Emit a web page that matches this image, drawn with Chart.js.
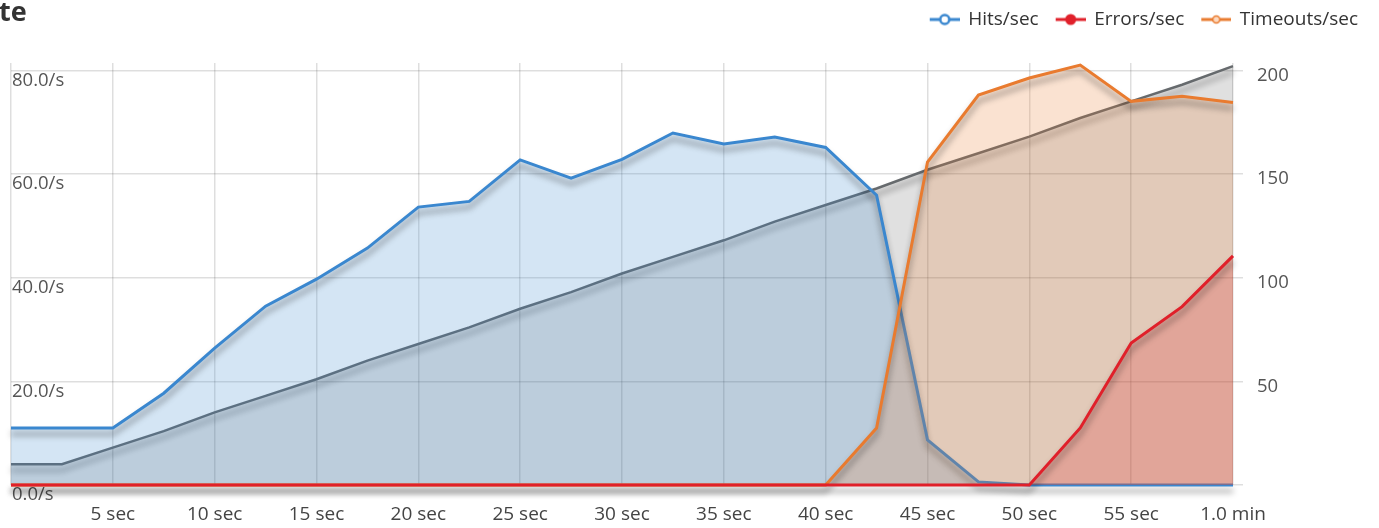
<!DOCTYPE html>
<html>
<head>
<meta charset="utf-8">
<script src="https://cdn.jsdelivr.net/npm/chart.js@4"></script>
<style>
  body { margin: 0; background: #fff; }
  #wrap { position: relative; width: 1379px; height: 528px; }
  #title { position: absolute; left: -1px; top: -3px; font: bold 27px "Open Sans"; line-height: 1; color: #333; }
</style>
</head>
<body>
<div id="wrap">
  <canvas id="chart" width="1379" height="528"></canvas>
  <div id="title">te</div>
</div>
<script>
// time in seconds, one sample every 2.5 s
const times = [0, 2.5, 5, 7.5, 10, 12.5, 15, 17.5, 20, 22.5, 25, 27.5, 30, 32.5, 35, 37.5, 40, 42.5, 45, 47.5, 50, 52.5, 55, 57.5, 60];
const hits = [11.0, 11.0, 11.0, 17.7, 26.4, 34.5, 39.7, 45.7, 53.6, 54.7, 62.7, 59.2, 62.8, 67.9, 65.8, 67.1, 65.1, 55.9, 8.7, 0.6, 0, 0, 0, 0, 0];
const errors = [0, 0, 0, 0, 0, 0, 0, 0, 0, 0, 0, 0, 0, 0, 0, 0, 0, 0, 0, 0, 0, 11.0, 27.4, 34.4, 44.2];
const timeouts = [0, 0, 0, 0, 0, 0, 0, 0, 0, 0, 0, 0, 0, 0, 0, 0, 0, 11.0, 62.3, 75.2, 78.5, 81.0, 74.0, 75.0, 73.8];
const users = [10, 10, 18, 26, 35, 43, 51, 60, 68, 76, 85, 93, 102, 110, 118, 127, 135, 143, 152, 160, 168, 177, 185, 193, 202];
const rightTicks = [0, 50, 100, 150, 200];

const pts = arr => arr.map((v, i) => ({x: times[i], y: v}));

// small line + circle marker for the legend
function marker(color, kind) {
  const c = document.createElement('canvas');
  c.width = 38; c.height = 14;
  const g = c.getContext('2d');
  g.strokeStyle = color;
  g.lineWidth = 3;
  g.beginPath(); g.moveTo(8, 7); g.lineTo(38, 7); g.stroke();
  g.beginPath();
  if (kind === 'hollow') {
    g.arc(23, 7, 4.5, 0, Math.PI * 2);
    g.fillStyle = '#fff'; g.fill();
    g.lineWidth = 2.5; g.stroke();
  } else if (kind === 'solid') {
    g.arc(23, 7, 5.5, 0, Math.PI * 2);
    g.fillStyle = color; g.fill();
  } else {
    g.arc(23, 7, 3.5, 0, Math.PI * 2);
    g.fillStyle = '#fcd9c0'; g.fill();
    g.lineWidth = 1.5; g.stroke();
  }
  return c;
}

const lineShadow = {
  id: 'lineShadow',
  beforeInit(chart) {
    // keep the legend row at the top but leave more room under it
    const fit = chart.legend.fit;
    chart.legend.fit = function () {
      fit.call(this);
      this.height += 24;
    };
  },
  beforeDatasetDraw(chart) {
    const c = chart.ctx;
    c.save();
    c.shadowColor = 'rgba(0,0,0,0.42)';
    c.shadowBlur = 6;
    c.shadowOffsetY = 6;
  },
  afterDatasetDraw(chart) {
    chart.ctx.restore();
  }
};

const font = {family: 'Open Sans', size: 18.5};
const bigFont = {family: 'Open Sans', size: 19};

new Chart(document.getElementById('chart'), {
  type: 'line',
  data: {
    datasets: [
      {label: 'Hits/sec', data: pts(hits), borderColor: '#3a87cf', backgroundColor: 'rgba(58,135,207,0.22)',
       borderWidth: 3, fill: 'origin', order: 2, yAxisID: 'y', pointStyle: marker('#3a87cf', 'hollow')},
      {label: 'Errors/sec', data: pts(errors), borderColor: '#e0202a', backgroundColor: 'rgba(224,32,42,0.22)',
       borderWidth: 3, fill: 'origin', order: 0, yAxisID: 'y', pointStyle: marker('#e0202a', 'solid')},
      {label: 'Timeouts/sec', data: pts(timeouts), borderColor: '#e97b2f', backgroundColor: 'rgba(233,123,47,0.22)',
       borderWidth: 3, fill: 'origin', order: 1, yAxisID: 'y', pointStyle: marker('#e97b2f', 'small')},
      {label: 'Users', data: pts(users), borderColor: '#666a6d', backgroundColor: 'rgba(0,0,0,0.12)',
       borderWidth: 2.5, fill: 'origin', order: 3, yAxisID: 'y1'}
    ]
  },
  options: {
    responsive: false,
    animation: false,
    layout: {padding: {left: 9, right: 11, top: 0, bottom: 2}},
    elements: {point: {radius: 0, hoverRadius: 0}, line: {tension: 0}},
    datasets: {line: {clip: false}},
    plugins: {
      tooltip: {enabled: false},
      legend: {
        position: 'top',
        align: 'end',
        labels: {
          usePointStyle: true,
          pointStyleWidth: 36,
          padding: 10,
          color: '#333',
          font: bigFont,
          sort: (a, b) => a.datasetIndex - b.datasetIndex,
          filter: item => item.text !== 'Users'
        }
      }
    },
    scales: {
      x: {
        type: 'linear',
        min: 0,
        max: 60,
        border: {display: false},
        grid: {color: 'rgba(0,0,0,0.13)', lineWidth: 1.5, drawTicks: true, tickLength: 18, tickColor: 'rgba(0,0,0,0)'},
        afterFit: s => { s.height = 41; },
        ticks: {
          stepSize: 5,
          padding: 0,
          color: '#444',
          font: bigFont,
          maxRotation: 0,
          callback: v => v === 0 ? '' : v === 60 ? '1.0 min' : v + ' sec'
        }
      },
      y: {
        position: 'left',
        min: 0,
        max: 81.4,
        border: {display: false},
        grid: {display: false, drawTicks: false},
        ticks: {
          stepSize: 20,
          includeBounds: false,
          mirror: true,
          padding: 1,
          labelOffset: 10,
          color: '#555',
          font: font,
          callback: v => v.toFixed(1) + '/s'
        }
      },
      y1: {
        position: 'right',
        min: 0,
        max: 203.5,
        border: {display: false},
        grid: {color: 'rgba(0,0,0,0.13)', lineWidth: 1.5, tickLength: 10},
        afterBuildTicks: s => { s.ticks = rightTicks.map(v => ({value: v})); },
        afterFit: s => { s.width = 135; },
        ticks: {
          padding: 14,
          labelOffset: 5,
          color: '#555',
          font: font,
          callback: v => v === 0 ? '' : v
        }
      }
    }
  },
  plugins: [lineShadow]
});
</script>
</body>
</html>
